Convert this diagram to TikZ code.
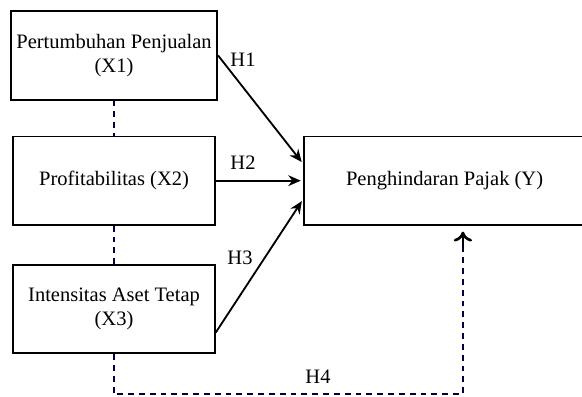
\documentclass[tikz,border=0pt]{standalone}
\usepackage{fontspec}
\setmainfont{Liberation Serif}
\usetikzlibrary{positioning,arrows.meta}

\begin{document}
\begin{tikzpicture}[
varnode/.style={rectangle, draw=black, line width=1.1pt, minimum width=121pt, minimum height=53pt, align=center, font=\fontsize{12.3}{14.5}\selectfont},
depnode/.style={rectangle, draw=black, line width=1.1pt, minimum width=168.5pt, minimum height=53pt, align=center, font=\fontsize{12.3}{14.5}\selectfont},
hlabel/.style={font=\fontsize{12.3}{14.5}\selectfont, inner sep=1pt},
hyparrow/.style={-{Stealth[length=7.5pt,width=6.5pt]}, line width=1.1pt, shorten >=1.5pt},
dotline/.style={dashed, dash pattern=on 3.5pt off 3pt, line width=0.9pt, draw=blue!25!black},
]
\useasboundingbox (0,0) rectangle (349.2pt,-238.2pt);

%Nodes
\node[varnode]      (x1)      at (68.4pt,-33.3pt) {Pertumbuhan Penjualan\\(X1)};
\node[varnode]      (x2)      [below=21pt of x1] {Profitabilitas (X2)};
\node[varnode]      (x3)      [below=23pt of x2] {Intensitas Aset Tetap\\(X3)};
\node[depnode]      (y)       [right=52.5pt of x2] {Penghindaran Pajak (Y)};

\node[hlabel]       (h1)      at (145.8pt,-36pt) {H1};
\node[hlabel]       (h2)      at (145.8pt,-97.8pt) {H2};
\node[hlabel]       (h3)      at (144pt,-154.8pt) {H3};
\node[hlabel]       (h4)      at (190.8pt,-226.2pt) {H4};

\coordinate (c1) at ([yshift=-24pt]x3.south);
\coordinate (c2) at ([xshift=11pt,yshift=-24pt]x3.south -| y.south);

%Lines
\draw[hyparrow] (x1.east) -- ([yshift=10pt]y.west);
\draw[hyparrow] (x2.east) -- (y.west);
\draw[hyparrow] ([yshift=-14pt]x3.east) -- ([yshift=-11pt]y.west);

\draw[dotline] (x1.south) -- (x2.north);
\draw[dotline] (x2.south) -- (x3.north);
\draw[dotline] (x3.south) -- (c1) -- (c2) -- ([xshift=11pt,yshift=-10pt]y.south);
\draw[-{To[length=6pt,width=11pt]}, line width=1.6pt] ([xshift=11pt,yshift=-13pt]y.south) -- ([xshift=11pt,yshift=-3.5pt]y.south);

\end{tikzpicture}
\end{document}
